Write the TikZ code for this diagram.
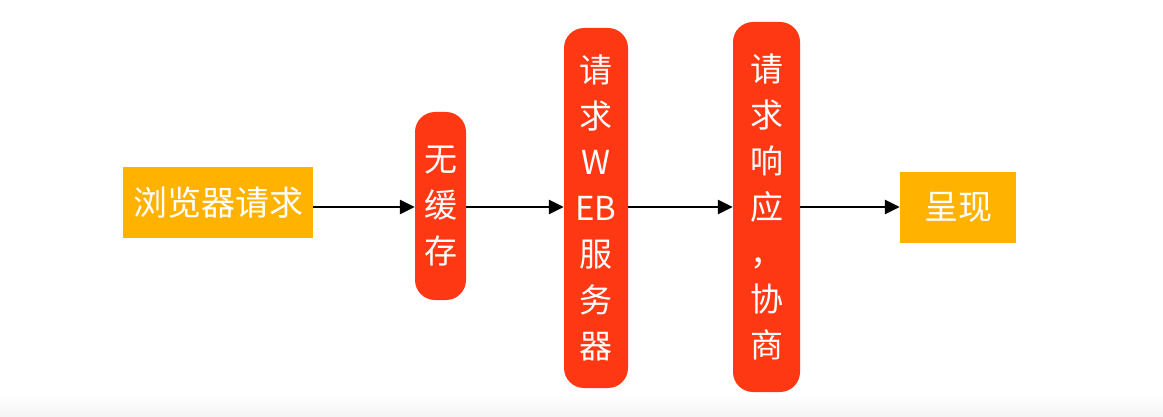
\documentclass[tikz,border=0pt]{standalone}
\usepackage{fontspec}
\setmainfont{Noto Sans CJK SC}
\usetikzlibrary{arrows.meta}
\definecolor{boxorange}{RGB}{255,179,0}
\definecolor{boxred}{RGB}{255,56,20}
\tikzset{
  sqbox/.style={fill=boxorange, text=white, inner sep=0pt, font=\fontsize{34}{46}\selectfont},
  pillbox/.style={fill=boxred, text=white, rounded corners=20pt, inner sep=0pt, align=center, font=\fontsize{33}{46}\selectfont},
  flow/.style={draw=black, line width=2.6pt, -{Triangle[length=15pt,width=14pt]}}
}
\begin{document}
\begin{tikzpicture}[x=1pt,y=-1pt]
\useasboundingbox (0,0) rectangle (1163,417);
\shade[top color=white, bottom color=black!4] (0,392) rectangle (1163,417);
\node[sqbox, minimum width=190pt, minimum height=71pt] (b1) at (218,202.5) {浏览器请求};
\node[pillbox, minimum width=51pt, minimum height=188pt] (b2) at (440.5,206) {无\\缓\\存};
\node[pillbox, minimum width=64pt, minimum height=360pt] (b3) at (596,208) {请\\求\\W\\EB\\服\\务\\器};
\node[pillbox, minimum width=67pt, minimum height=370pt] (b4) at (766.5,207) {请\\求\\响\\应\\，\\协\\商};
\node[sqbox, minimum width=116pt, minimum height=71pt] (b5) at (958,207.5) {呈现};
\coordinate (ay) at (0,207);
\draw[flow] (b1.east |- ay) -- (b2.west |- ay);
\draw[flow] (b2.east |- ay) -- (b3.west |- ay);
\draw[flow] (b3.east |- ay) -- (b4.west |- ay);
\draw[flow] (b4.east |- ay) -- (b5.west |- ay);
\end{tikzpicture}
\end{document}
